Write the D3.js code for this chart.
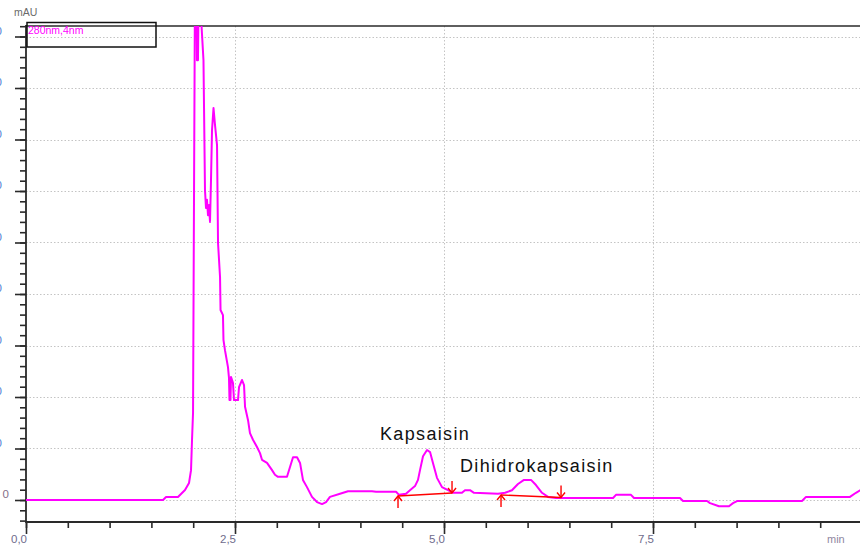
<!DOCTYPE html>
<html><head><meta charset="utf-8">
<script src="https://cdn.jsdelivr.net/npm/d3@7"></script>
<style>
html,body{margin:0;padding:0;background:#fff;}
svg{display:block;font-family:"Liberation Sans",Arial,sans-serif;}
</style></head>
<body>
<svg id="chart" width="860" height="547"></svg>
<script>
// ---- data ----
const times = [0,1.639,1.675,1.818,1.854,1.902,1.950,1.974,1.986,1.998,2.010,2.027,2.045,2.057,2.081,2.093,2.105,2.123,2.141,2.153,2.165,2.177,2.189,2.201,2.213,2.225,2.243,2.261,2.285,2.297,2.321,2.327,2.356,2.362,2.380,2.416,2.428,2.434,2.446,2.452,2.476,2.488,2.536,2.548,2.584,2.608,2.620,2.656,2.679,2.715,2.763,2.799,2.823,2.883,2.943,2.978,3.014,3.122,3.158,3.194,3.242,3.278,3.313,3.361,3.421,3.481,3.541,3.589,3.636,3.756,3.852,4.139,4.187,4.426,4.462,4.545,4.593,4.653,4.689,4.713,4.749,4.797,4.833,4.868,4.916,4.976,5.048,5.108,5.215,5.251,5.311,5.359,5.646,5.730,5.813,5.885,5.957,6.041,6.100,6.172,6.244,6.340,7.022,7.057,7.237,7.273,7.823,7.859,8.146,8.182,8.289,8.409,8.457,8.505,9.282,9.330,9.856,9.928,10.0];
const values = [0,0,5.8,5.8,11.7,19.4,33,58,117,169,600,1200,854,854,1200,940,905,854,602,567,583,553,573,540,621,718,761,728,689,499,433,369,359,311,291,258,237,194,194,239,227,194,194,219,233,223,181,155,130,117,103,91,78,72,58,49,45,45,64,83,83,72,39,25,6,-4,-8,-4,6,12,17,17,16,16,10,12,19,27,39,58,85,97,93,72,43,25,19,14,14,19,19,14,12,14,19,31,39,39,29,14,6,4,4,10,10,4,4,-2,-2,-6,-12,-12,-6,-2,-2,6,6,14,21];

const xTickValues = [0, 2.5, 5.0, 7.5, 10];
const xTickLabels = ["0,0", "2,5", "5,0", "7,5", ""];
const yTickValues = [0,100,200,300,400,500,600,700,800,900];
const yTickLabels = ["0","100","200","300","400","500","600","700","800","900"];

const peakNames = ["Kapsaisin", "Dihidrokapsaisin"];
const peakLabelTime = [4.234, 5.191];
const peakLabelValue = [116.5, 54.4];
const baseStartTime = [4.450, 5.682];
const baseStartValue = [7.8, 9.7];
const baseEndTime = [5.096, 6.400];
const baseEndValue = [13.6, 4.9];

const legendText = "280nm,4nm";
const yUnit = "mAU";
const xUnit = "min";

// ---- layout ----
const svg = d3.select("#chart");
const pL = 26, pR = 862, pT = 26, pB = 522;
const x = d3.scaleLinear().domain([0, 10]).range([pL, pR]);
const y = d3.scaleLinear().domain([0, 900]).range([500, 36.5]);

svg.append("defs").append("clipPath").attr("id","plotclip")
  .append("rect").attr("x", pL).attr("y", pT).attr("width", pR-pL).attr("height", pB-pT);

// gridlines
const grid = svg.append("g").attr("stroke","#c4c4c4").attr("stroke-width",1).attr("stroke-dasharray","1.5,2");
grid.selectAll("line.h").data(yTickValues).join("line").attr("class","h")
  .attr("x1", pL).attr("x2", 860)
  .attr("y1", d => Math.round(y(d))+0.5).attr("y2", d => Math.round(y(d))+0.5);
grid.selectAll("line.v").data(xTickValues.filter(d => d>0 && d<10)).join("line").attr("class","v")
  .attr("x1", d => Math.round(x(d))+0.5).attr("x2", d => Math.round(x(d))+0.5)
  .attr("y1", pT).attr("y2", pB);

// axes via d3 axis generators
function styleAxis(g){
  g.select(".domain").remove();
  g.selectAll(".tick line").attr("stroke","#2a2a2a").attr("stroke-width",1.6);
  g.selectAll(".tick text").remove();
}
svg.append("g").attr("transform",`translate(0,${pB})`)
  .call(d3.axisBottom(x).tickValues(d3.range(0, 10.01, 0.5)).tickSize(6)).call(styleAxis);
svg.append("g").attr("transform",`translate(0,${pB})`)
  .call(d3.axisBottom(x).tickValues(xTickValues).tickSize(12)).call(styleAxis);
svg.append("g").attr("transform",`translate(${pL},0)`)
  .call(d3.axisLeft(y).tickValues(d3.range(-40, 921, 20)).tickSize(6)).call(styleAxis);
svg.append("g").attr("transform",`translate(${pL},0)`)
  .call(d3.axisLeft(y).tickValues(yTickValues).tickSize(11)).call(styleAxis);

// axis lines
svg.append("line").attr("x1", pL).attr("x2", pL).attr("y1", pT-1).attr("y2", pB+1)
  .attr("stroke","#2a2a2a").attr("stroke-width",1.8);
svg.append("line").attr("x1", pL).attr("x2", 860).attr("y1", pB).attr("y2", pB)
  .attr("stroke","#2a2a2a").attr("stroke-width",1.8);
svg.append("line").attr("x1", pL).attr("x2", 860).attr("y1", pT).attr("y2", pT)
  .attr("stroke","#2a2a2a").attr("stroke-width",1.6);

// tick labels
svg.append("g").selectAll("text").data(xTickValues).join("text")
  .attr("x", d => x(d)+1).attr("y", 543).attr("text-anchor","end")
  .attr("font-size", 11.5).attr("fill","#6f6c8c").text((d,i) => xTickLabels[i]);
svg.append("g").selectAll("text").data(yTickValues).join("text")
  .attr("x", d => d === 0 ? 9 : 2).attr("y", d => y(d)-2).attr("text-anchor","end")
  .attr("font-size", 11.5).attr("fill", d => d === 0 ? "#86708a" : "#4f7fd6")
  .text((d,i) => yTickLabels[i]);
svg.append("text").attr("x", 14).attr("y", 16).attr("font-size", 10.5).attr("fill","#6a6a6a").text(yUnit);
svg.append("text").attr("x", 827).attr("y", 543).attr("font-size", 11).attr("fill","#8f86a0").text(xUnit);

// chromatogram
const line = d3.line().x((d,i) => x(times[i])).y(d => y(d));
svg.append("path").attr("clip-path","url(#plotclip)")
  .attr("d", line(values)).attr("fill","none").attr("stroke","#ff00ff").attr("stroke-width",2)
  .attr("stroke-linejoin","round");

// legend box
svg.append("rect").attr("x", 27).attr("y", 22.5).attr("width", 129).attr("height", 24.5)
  .attr("fill","none").attr("stroke","#111").attr("stroke-width",1.5);
svg.append("text").attr("x", 28).attr("y", 34).attr("font-size", 10.5).attr("fill","#ff00ff").text(legendText);

// peak baselines and markers
const mk = svg.append("g").attr("stroke","#ff0000").attr("stroke-width",1.4).attr("fill","none");
peakNames.forEach((n,i) => {
  const x0 = x(baseStartTime[i]), y0 = y(baseStartValue[i]);
  const x1 = x(baseEndTime[i]), y1 = y(baseEndValue[i]);
  mk.append("line").attr("x1",x0).attr("y1",y0).attr("x2",x1).attr("y2",y1);
  mk.append("line").attr("x1",x0).attr("y1",y0+12).attr("x2",x0).attr("y2",y0);
  mk.append("path").attr("d",`M${x0-4},${y0+5}L${x0},${y0}L${x0+4},${y0+5}`);
  mk.append("line").attr("x1",x1).attr("y1",y1-12).attr("x2",x1).attr("y2",y1);
  mk.append("path").attr("d",`M${x1-4},${y1-5}L${x1},${y1}L${x1+4},${y1-5}`);
});

// peak labels
svg.append("g").selectAll("text").data(peakNames).join("text")
  .attr("x",(d,i) => x(peakLabelTime[i])).attr("y",(d,i) => y(peakLabelValue[i]))
  .attr("font-size", 18).attr("letter-spacing", 1.35).attr("fill","#111").text(d => d);
</script>
</body></html>
